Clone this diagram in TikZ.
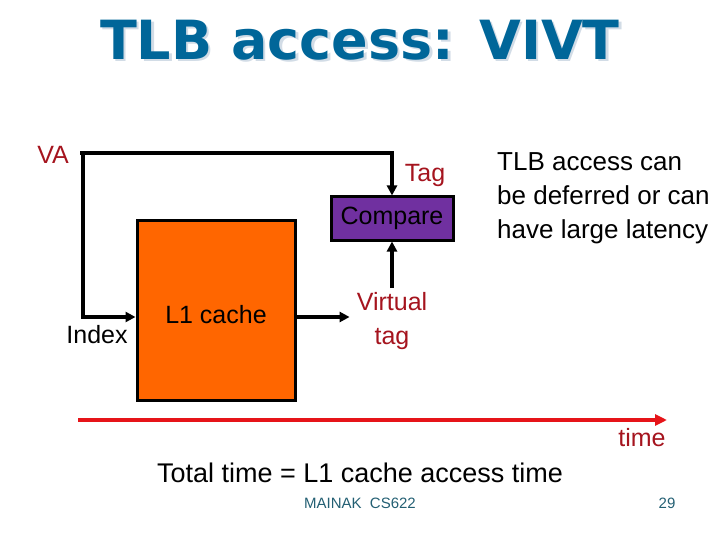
\documentclass[tikz,border=0pt]{standalone}
\usepackage{fontspec}
\setmainfont{Liberation Sans}
\newfontfamily\titlefont{DejaVu Sans}
\usetikzlibrary{arrows.meta}
\definecolor{titleblue}{RGB}{0,102,153}
\definecolor{titleshadow}{RGB}{210,220,230}
\definecolor{darkred}{RGB}{165,20,30}
\definecolor{cacheorange}{RGB}{255,102,0}
\definecolor{cmppurple}{RGB}{112,48,160}
\definecolor{timered}{RGB}{230,20,25}
\definecolor{footer}{RGB}{35,95,115}
\tikzset{
  body/.style={font=\fontsize{25}{34}\selectfont, inner sep=0pt},
  redtxt/.style={body, text=darkred},
  conn/.style={line width=3.5pt, -{Triangle[length=10pt,width=10pt]}},
  plain/.style={line width=3.5pt},
  boxed/.style={draw=black, line width=3pt, inner sep=0pt},
  titlestyle/.style={font=\titlefont\bfseries\fontsize{54}{60}\selectfont},
}
\begin{document}
\begin{tikzpicture}[x=1pt,y=-1pt]
\useasboundingbox (0,0) rectangle (720,540);
% title with faint shadow
\node[titlestyle, text=titleshadow] (tshadow) at (362.5,42.5) {TLB access: VIVT};
\node[titlestyle, text=titleblue] (title) at (360,40) {TLB access: VIVT};
% nodes
\node[redtxt] (va) at (53,155) {VA};
\coordinate (vastart) at (80,153);
\coordinate (vacorner) at (83,153);
\node[boxed, fill=cacheorange, minimum width=158pt, minimum height=179pt] (cache) at (216,310.5) {};
\coordinate (cachein) at ([yshift=-6.5pt]cache.west);
\coordinate (cacheout) at ([yshift=-6.5pt]cache.east);
\node[body] (l1) at (216,315) {L1 cache};
\node[body] (index) at (97,335) {Index};
\node[boxed, fill=cmppurple, minimum width=122pt, minimum height=43pt, font=\fontsize{25}{30}\selectfont] (cmp) at (392,218.5) {Compare};
\node[redtxt] (tag) at (425,175) {Tag};
\node[redtxt, align=center, inner xsep=7pt, inner ysep=4pt] (vt) at (392,321) {Virtual\\tag};
\node[body, font=\fontsize{26}{34}\selectfont, align=left, anchor=north west] (note) at (497,152) {TLB access can\\be deferred or can\\have large latency};
% connectors
\draw[plain] (vastart) -- (vacorner);
\draw[conn] (vacorner) -| (cmp.north);
\draw[conn] (vacorner) |- (cachein);
\draw[conn] (cacheout) -- (vt.west |- cacheout);
\draw[conn] (vt.north) -- (cmp.south);
% time axis
\coordinate (t0) at (78,420);
\coordinate (t1) at (667,420);
\draw[line width=4pt, timered, -{Triangle[length=12pt,width=11pt]}] (t0) -- (t1);
\node[redtxt] (time) at (642,438) {time};
\node[body, font=\fontsize{27}{34}\selectfont] (total) at (360,473) {Total time = L1 cache access time};
\node[font=\fontsize{15}{18}\selectfont, text=footer] (foot) at (360,503) {MAINAK\ \ CS622};
\node[font=\fontsize{15}{18}\selectfont, text=footer] (page) at (667,503) {29};
\end{tikzpicture}
\end{document}
